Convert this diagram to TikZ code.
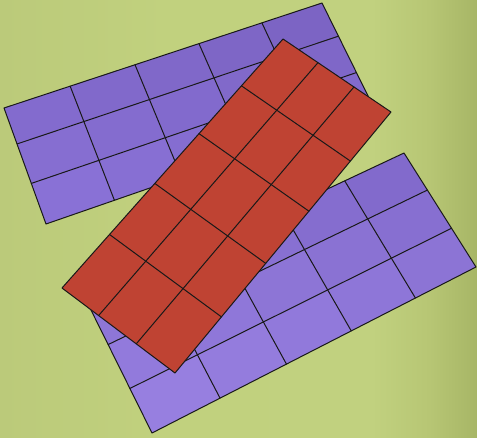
\documentclass[tikz,border=0pt]{standalone}
\usetikzlibrary{calc}
\definecolor{puA}{HTML}{7A62C1}
\definecolor{puB}{HTML}{8B73D9}
\definecolor{pcA}{HTML}{7F67C9}
\definecolor{pcB}{HTML}{9B83E4}
\definecolor{rd}{HTML}{BF4333}
\definecolor{bgcA}{HTML}{BBCA7A}
\definecolor{bgcB}{HTML}{C1D17E}
\definecolor{bgcC}{HTML}{C1D17F}
\definecolor{bgcD}{HTML}{B7C674}
\definecolor{bgcE}{HTML}{A7B666}
\pgfdeclarehorizontalshading{bgshade}{100bp}{%
  color(0bp)=(bgcA); color(25bp)=(bgcA); color(42.5bp)=(bgcB); color(64bp)=(bgcC);
  color(70bp)=(bgcD); color(75bp)=(bgcE); color(100bp)=(bgcE)}
\tikzset{gridline/.style={draw=black!90, line width=1pt, line join=round, line cap=round}}
% fill cells with a colour gradient: #1 TL, #2 TR, #3 BR, #4 BL, #5 column pairs, #6 row pairs, #7 dark, #8 light
\newcommand\cellfill[8]{%
  \foreach \ua/\ub in #5 {
    \foreach \va/\vb in #6 {
      \pgfmathtruncatemacro\pct{100*((\va+\vb)/2 + 1 - (\ua+\ub)/2)/2}
      \fill[#8!\pct!#7]
        ($($(#1)!\ua!(#2)$)!\va!($(#4)!\ua!(#3)$)$) --
        ($($(#1)!\ub!(#2)$)!\va!($(#4)!\ub!(#3)$)$) --
        ($($(#1)!\ub!(#2)$)!\vb!($(#4)!\ub!(#3)$)$) --
        ($($(#1)!\ua!(#2)$)!\vb!($(#4)!\ua!(#3)$)$) -- cycle;
    }
  }%
}
% grid lines: #1 TL, #2 TR, #3 BR, #4 BL, #5 column fractions, #6 row fractions
\newcommand\cellgridlines[6]{%
  \foreach \u in #5 {\draw[gridline] ($(#1)!\u!(#2)$) -- ($(#4)!\u!(#3)$);}
  \foreach \v in #6 {\draw[gridline] ($(#1)!\v!(#4)$) -- ($(#2)!\v!(#3)$);}
  \draw[gridline] (#1) -- (#2) -- (#3) -- (#4) -- cycle;
}
\begin{document}
\begin{tikzpicture}[x=1pt,y=-1pt]
\useasboundingbox (0,0) rectangle (477,437);
\shade[shading=bgshade] (0,0) rectangle (477,437);
% upper-left purple grid
\coordinate (uTL) at (4,108);
\coordinate (uTR) at (322,3);
\coordinate (uBR) at (375,110);
\coordinate (uBL) at (46,224);
\cellfill{uTL}{uTR}{uBR}{uBL}{{0/.208,.208/.412,.412/.613,.613/.811,.811/1}}{{0/.31,.31/.65,.65/1}}{puA}{puB}
\cellgridlines{uTL}{uTR}{uBR}{uBL}{{.208,.412,.613,.811}}{{.31,.65}}
% lower-right purple grid
\coordinate (lTL) at (87,302);
\coordinate (lTR) at (404,153);
\coordinate (lBR) at (476,267);
\coordinate (lBL) at (152,433);
\cellfill{lTL}{lTR}{lBR}{lBL}{{0/.21,.21/.415,.415/.615,.615/.813,.813/1}}{{0/.325,.325/.66,.66/1}}{pcA}{pcB}
\cellgridlines{lTL}{lTR}{lBR}{lBL}{{.21,.415,.615,.813}}{{.325,.66}}
% red grid
\coordinate (rT) at (283,39);
\coordinate (rR) at (391,112);
\coordinate (rB) at (175,373);
\coordinate (rL) at (62,288);
\fill[rd] (rT) -- (rR) -- (rB) -- (rL) -- cycle;
\cellgridlines{rT}{rR}{rB}{rL}{{.324,.657}}{{.188,.38,.58,.785}}
\end{tikzpicture}
\end{document}
